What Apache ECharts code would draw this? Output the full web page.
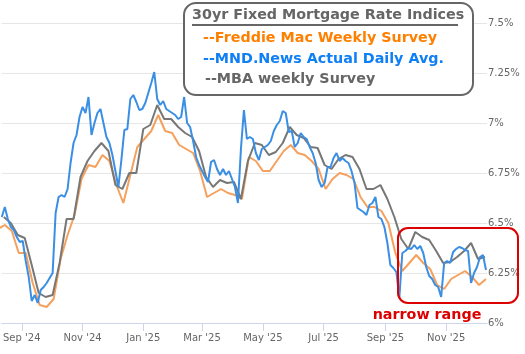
<!DOCTYPE html>
<html>
<head>
<meta charset="utf-8">
<style>
  html, body { margin: 0; padding: 0; background: #fff; }
  #main { width: 525px; height: 354px; }
</style>
<script src="https://cdn.jsdelivr.net/npm/echarts@6/dist/echarts.min.js"></script>
</head>
<body>
<div id="main"></div>
<script>
// axis range and month ticks (month index is 0-based)
const axisStart = [2024, 7, 12];
const axisEnd = [2025, 11, 12];
const tickMonths = [[2024, 8], [2024, 10], [2025, 0], [2025, 2], [2025, 4], [2025, 6], [2025, 8], [2025, 10]];
const monthNames = ['Jan', 'Feb', 'Mar', 'Apr', 'May', 'Jun', 'Jul', 'Aug', 'Sep', 'Oct', 'Nov', 'Dec'];

// Freddie Mac weekly survey, every Thursday from Aug 8 2024
const freddieStart = [2024, 7, 8];
const freddie = [
  6.47, 6.49, 6.46, 6.35, 6.35, 6.20, 6.09, 6.08, 6.12, 6.32,
  6.44, 6.54, 6.72, 6.79, 6.78, 6.84, 6.81, 6.69, 6.60, 6.74,
  6.88, 6.92, 6.96, 7.04, 6.96, 6.95, 6.89, 6.87, 6.85, 6.76,
  6.63, 6.65, 6.67, 6.65, 6.64, 6.62, 6.83, 6.81, 6.76, 6.76,
  6.81, 6.86, 6.89, 6.85, 6.84, 6.81, 6.77, 6.67, 6.72, 6.75,
  6.74, 6.72, 6.63, 6.58, 6.58, 6.56, 6.50, 6.35, 6.26, 6.30,
  6.34, 6.30, 6.27, 6.19, 6.17, 6.22, 6.24, 6.26, 6.23, 6.19,
  6.22
];

// MBA weekly survey, every Wednesday from Aug 14 2024
const mbaStart = [2024, 7, 14];
const mba = [
  6.53, 6.50, 6.44, 6.425, 6.29, 6.15, 6.13, 6.14, 6.30, 6.52,
  6.52, 6.73, 6.81, 6.86, 6.90, 6.86, 6.69, 6.67, 6.75, 6.75,
  6.97, 6.99, 7.09, 7.02, 7.02, 6.98, 6.95, 6.93, 6.86, 6.73,
  6.68, 6.715, 6.70, 6.705, 6.62, 6.81, 6.90, 6.89, 6.84, 6.855,
  6.90, 6.98, 6.94, 6.925, 6.88, 6.875, 6.79, 6.77, 6.82, 6.84,
  6.83, 6.77, 6.67, 6.67, 6.69, 6.62, 6.53, 6.42, 6.37, 6.455,
  6.43, 6.415, 6.36, 6.30, 6.305, 6.33, 6.36, 6.40, 6.32, 6.33
];

// MND daily index, read every 3 days from Aug 12 2024
const mndStart = [2024, 7, 12];
const mndStep = 3;
const mnd = [
  6.53, 6.58, 6.52, 6.48, 6.465, 6.43, 6.405, 6.41, 6.31, 6.23,
  6.11, 6.14, 6.10, 6.165, 6.18, 6.20, 6.225, 6.25, 6.55, 6.63,
  6.64, 6.63, 6.67, 6.80, 6.90, 6.94, 7.03, 7.08, 7.05, 7.13,
  6.94, 7.00, 7.05, 7.07, 7.00, 6.93, 6.90, 6.84, 6.76, 6.68,
  6.815, 6.965, 6.97, 7.12, 7.14, 7.105, 7.065, 7.07, 7.10, 7.15,
  7.20, 7.255, 7.12, 7.09, 7.11, 7.07, 7.06, 7.05, 7.04, 7.02,
  7.03, 7.13, 7.00, 6.98, 6.91, 6.83, 6.79, 6.76, 6.73, 6.705,
  6.805, 6.815, 6.77, 6.74, 6.77, 6.74, 6.76, 6.72, 6.68, 6.60,
  6.87, 7.065, 6.92, 6.93, 6.92, 6.85, 6.815, 6.87, 6.88, 6.89,
  6.91, 6.96, 6.99, 7.01, 7.06, 7.05, 6.955, 6.96, 6.88, 6.90,
  6.95, 6.93, 6.92, 6.88, 6.85, 6.80, 6.715, 6.68, 6.70, 6.78,
  6.78, 6.825, 6.85, 6.81, 6.825, 6.81, 6.80, 6.76, 6.70, 6.575,
  6.565, 6.555, 6.54, 6.59, 6.60, 6.63, 6.53, 6.52, 6.48, 6.40,
  6.29, 6.275, 6.255, 6.125, 6.35, 6.36, 6.375, 6.37, 6.39, 6.37,
  6.385, 6.35, 6.28, 6.235, 6.22, 6.19, 6.18, 6.13, 6.30, 6.31,
  6.30, 6.355, 6.37, 6.38, 6.375, 6.365, 6.36, 6.20, 6.25, 6.28,
  6.33, 6.34, 6.265
];

// turn a start date + step into [time, value] pairs
function toSeries(start, stepDays, values) {
  return values.map((v, i) => [new Date(start[0], start[1], start[2] + i * stepDays).getTime(), v]);
}

const ticks = tickMonths.map(m => new Date(m[0], m[1], 1).getTime());

let chart = echarts.init(document.getElementById('main'), null, { renderer: 'canvas' });

const font = 'DejaVu Sans';
const boxFont = 'bold 14.3px ' + font;

let option = {
  animation: false,
  grid: { left: 0, right: 38, top: 23, bottom: 31 },
  xAxis: {
    // timestamps on a value axis so the month ticks can be placed exactly
    type: 'value',
    min: new Date(axisStart[0], axisStart[1], axisStart[2]).getTime(),
    max: new Date(axisEnd[0], axisEnd[1], axisEnd[2]).getTime(),
    axisLine: { lineStyle: { color: '#ccd6eb', width: 1 } },
    axisTick: { show: true, length: 8, customValues: ticks, lineStyle: { color: '#ccd6eb' } },
    splitLine: { show: false },
    axisLabel: {
      customValues: ticks,
      color: '#666',
      fontFamily: font,
      fontSize: 10,
      margin: 10,
      formatter: function (val) {
        let d = new Date(val);
        return monthNames[d.getMonth()] + " '" + String(d.getFullYear()).slice(2);
      }
    }
  },
  yAxis: {
    type: 'value',
    position: 'right',
    min: 6,
    max: 7.5,
    interval: 0.25,
    axisLine: { show: false },
    axisTick: { show: false },
    splitLine: { lineStyle: { color: '#e6e6e6', width: 1 } },
    axisLabel: {
      color: '#666',
      fontFamily: font,
      fontSize: 10,
      margin: 1,
      padding: [0, 0, 4, 0],
      formatter: v => v + '%'
    }
  },
  series: [
    {
      name: 'Freddie Mac',
      type: 'line',
      data: toSeries(freddieStart, 7, freddie),
      showSymbol: false,
      lineStyle: { color: '#f5a05c', width: 2 },
      z: 2
    },
    {
      name: 'MBA',
      type: 'line',
      data: toSeries(mbaStart, 7, mba),
      showSymbol: false,
      lineStyle: { color: '#777', width: 2 },
      z: 3
    },
    {
      name: 'MND',
      type: 'line',
      data: toSeries(mndStart, mndStep, mnd),
      showSymbol: false,
      lineStyle: { color: '#3a8fe4', width: 2 },
      z: 4
    }
  ],
  graphic: [
    // legend box
    {
      type: 'rect', z: 100,
      shape: { x: 184, y: 3, width: 289, height: 92, r: 12 },
      style: { fill: '#fff', stroke: '#666', lineWidth: 2 }
    },
    {
      type: 'text', z: 101, x: 192, y: 15,
      style: { text: '30yr Fixed Mortgage Rate Indices', font: boxFont, fill: '#666', verticalAlign: 'middle' }
    },
    {
      type: 'line', z: 101,
      shape: { x1: 192, y1: 25, x2: 458, y2: 25 },
      style: { stroke: '#666', lineWidth: 2 }
    },
    {
      type: 'text', z: 101, x: 203, y: 38,
      style: { text: '--Freddie Mac Weekly Survey', font: boxFont, fill: '#ff8000', verticalAlign: 'middle' }
    },
    {
      type: 'text', z: 101, x: 203, y: 59,
      style: { text: '--MND.News Actual Daily Avg.', font: boxFont, fill: '#0f7ff5', verticalAlign: 'middle' }
    },
    {
      type: 'text', z: 101, x: 205, y: 79,
      style: { text: '--MBA weekly Survey', font: boxFont, fill: '#666', verticalAlign: 'middle' }
    },
    // narrow range callout
    {
      type: 'rect', z: 100,
      shape: { x: 398, y: 228, width: 120, height: 75, r: 10 },
      style: { fill: 'none', stroke: '#dd0000', lineWidth: 2 }
    },
    {
      type: 'text', z: 101, x: 427, y: 315,
      style: { text: 'narrow range', font: 'bold 14.3px ' + font, fill: '#dd0000', align: 'center', verticalAlign: 'middle' }
    }
  ]
};

chart.setOption(option);
</script>
</body>
</html>
